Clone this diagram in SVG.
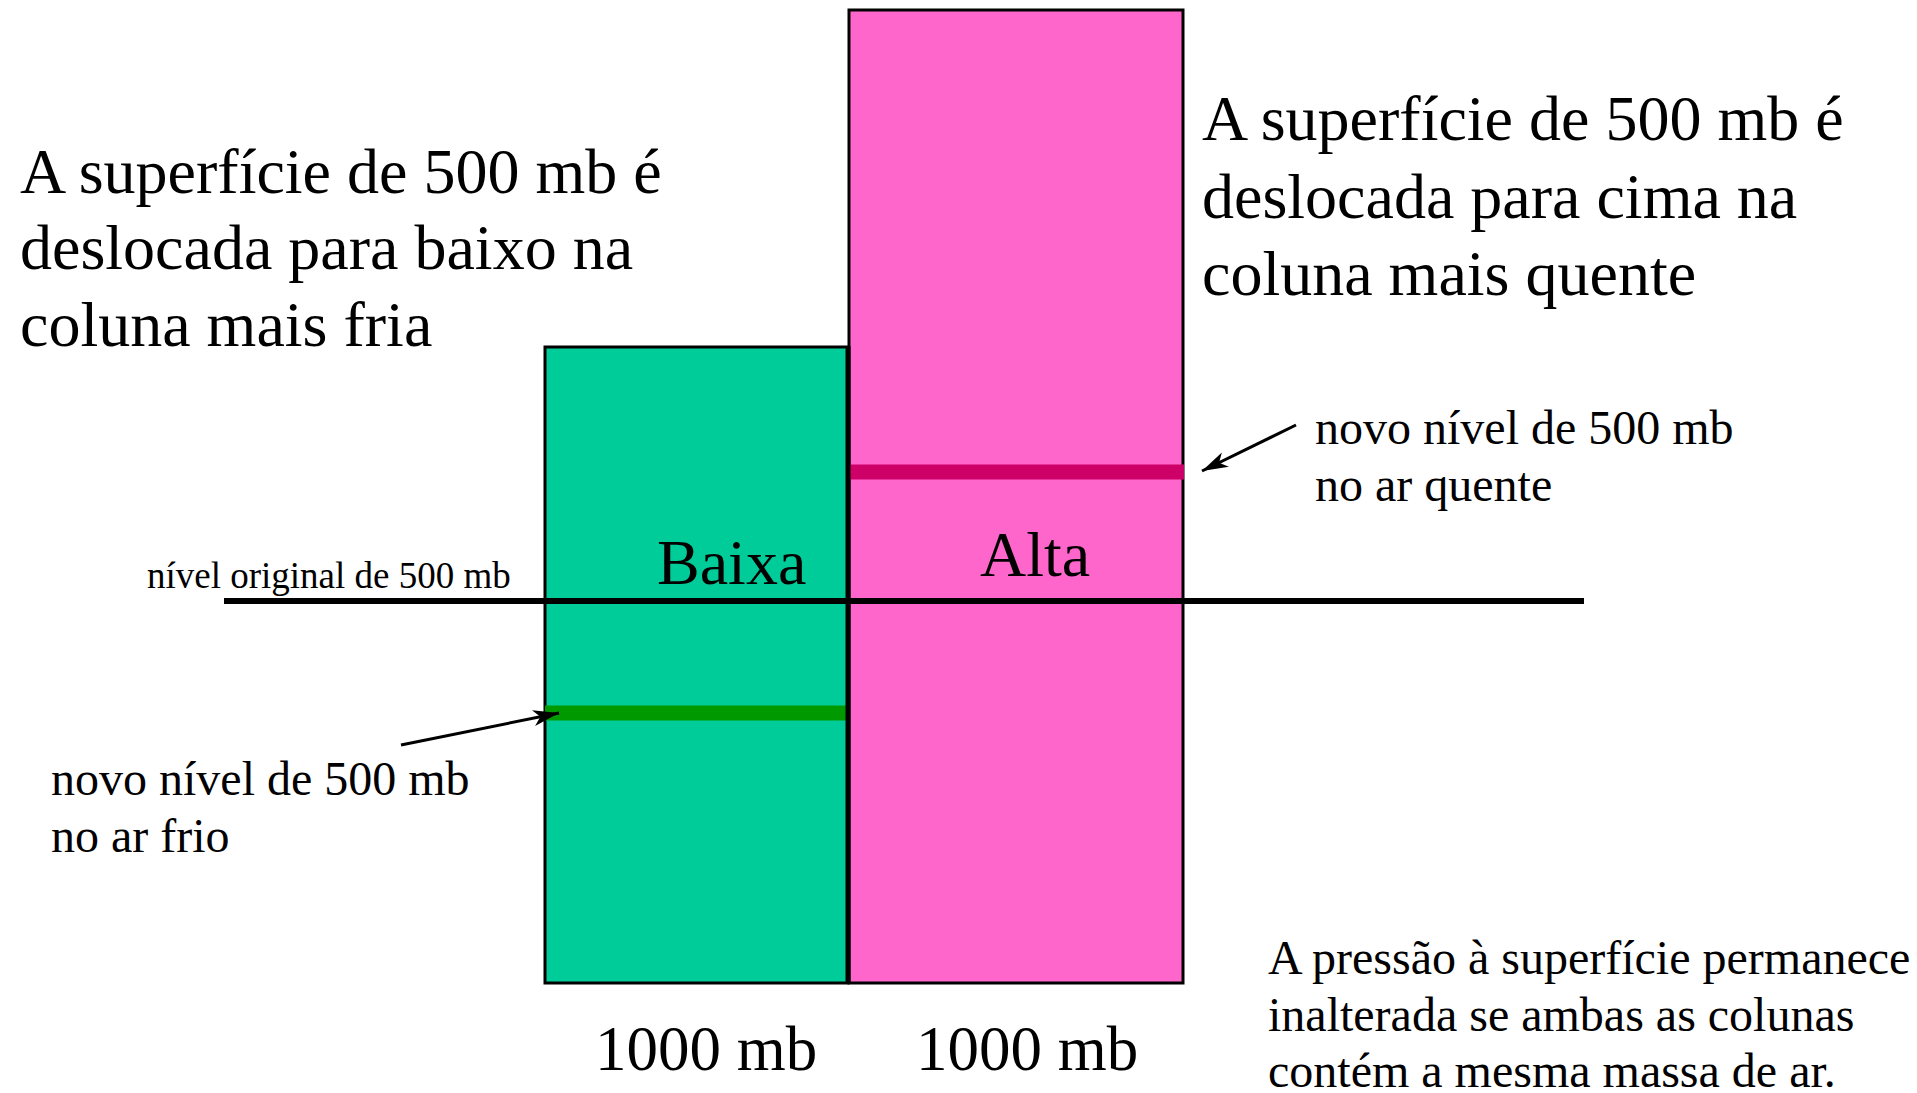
<svg xmlns="http://www.w3.org/2000/svg" width="1917" height="1093" viewBox="0 0 1917 1093">
<style>
text{font-family:'Liberation Serif',Tinos,'Times New Roman',Times,serif;fill:#000}
.big{font-size:64px}
.mid{font-size:48px}
.lab{font-size:64px}
.bot{font-size:63px}
.sm{font-size:37px}
.conn{stroke:#000;stroke-width:3;fill:none}
</style>
<defs>
<marker id="ah" markerWidth="28" markerHeight="18" refX="26" refY="9" orient="auto" markerUnits="userSpaceOnUse">
<path d="M0,1 L26,9 L0,17 L7,9 Z" fill="#000"/>
</marker>
</defs>
<rect width="1917" height="1093" fill="#fff"/>
<g id="cold-column">
<rect x="545" y="347" width="303" height="636" fill="#00CC99" stroke="#000" stroke-width="3"/>
<line x1="545" y1="713" x2="848" y2="713" stroke="#009900" stroke-width="15"/>
<text class="lab" x="657" y="584">Baixa</text>
</g>
<g id="warm-column">
<rect x="849" y="10" width="334" height="973" fill="#FF66CC" stroke="#000" stroke-width="3"/>
<line x1="849" y1="472" x2="1184" y2="472" stroke="#CC0066" stroke-width="15"/>
<text class="lab" x="980" y="576">Alta</text>
</g>
<g id="divider">
<line x1="848" y1="346" x2="848" y2="984" stroke="#000" stroke-width="5"/>
</g>
<g id="original-level">
<line x1="224" y1="601" x2="1584" y2="601" stroke="#000" stroke-width="6"/>
<text class="sm" x="147" y="588">nível original de 500 mb</text>
</g>
<g id="left-text">
<text class="big" x="20" y="193">A superfície de 500 mb é</text>
<text class="big" x="20" y="269">deslocada para baixo na</text>
<text class="big" x="20" y="346">coluna mais fria</text>
</g>
<g id="right-text">
<text class="big" x="1202" y="140">A superfície de 500 mb é</text>
<text class="big" x="1202" y="218">deslocada para cima na</text>
<text class="big" x="1202" y="295">coluna mais quente</text>
</g>
<g id="warm-label">
<text class="mid" x="1315" y="444">novo nível de 500 mb</text>
<text class="mid" x="1315" y="501">no ar quente</text>
</g>
<g id="cold-label">
<text class="mid" x="51" y="795">novo nível de 500 mb</text>
<text class="mid" x="51" y="852">no ar frio</text>
</g>
<g id="surface-labels">
<text class="bot" x="595" y="1070">1000 mb</text>
<text class="bot" x="916" y="1070">1000 mb</text>
</g>
<g id="note">
<text class="mid" x="1268" y="974">A pressão à superfície permanece</text>
<text class="mid" x="1268" y="1031">inalterada se ambas as colunas</text>
<text class="mid" x="1268" y="1087">contém a mesma massa de ar.</text>
</g>
<g id="connectors">
<line class="conn" x1="1296" y1="425" x2="1202" y2="471" marker-end="url(#ah)"/>
<line class="conn" x1="401" y1="745" x2="559" y2="713" marker-end="url(#ah)"/>
</g>
</svg>
